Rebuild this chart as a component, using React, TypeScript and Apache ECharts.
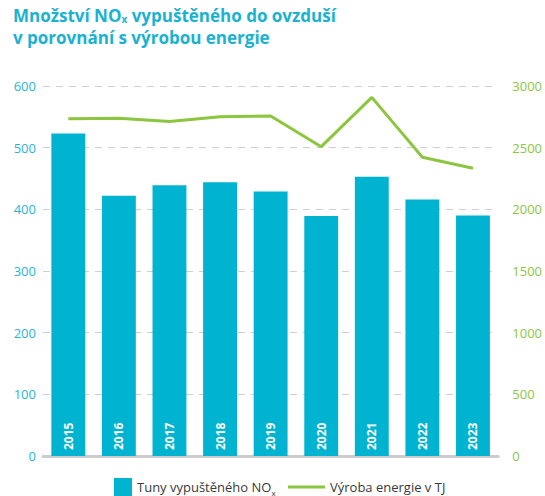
import React, { useEffect, useRef } from "react";
import * as echarts from "echarts";

const years = ["2015", "2016", "2017", "2018", "2019", "2020", "2021", "2022", "2023"];
const noxTons = [523, 422, 439, 444, 429, 389, 453, 416, 390];
const energyTJ = [2735, 2738, 2713, 2751, 2757, 2508, 2908, 2422, 2333];
const leftTicks = { min: 0, max: 600, interval: 100 };
const rightTicks = { min: 0, max: 3000, interval: 500 };
const barName = "Tuny vypuštěného NOx";
const lineName = "Výroba energie v TJ";

const TEAL = "#00b4d1";
const GREEN = "#8cc63f";
const TITLE = "#1ab2d2";
const FONT = "'Open Sans', 'Noto Sans', sans-serif";

export default function App() {
  const ref = useRef<HTMLDivElement>(null);
  useEffect(() => {
    document.body.style.margin = "0";
    const chart = echarts.init(ref.current!, null, { renderer: "svg" });
    chart.setOption({
      animation: false,
      textStyle: { fontFamily: FONT },
      title: [
        {
          left: 8,
          top: 1,
          text: "{a|Množství NO}{s|x}{a| vypuštěného do ovzduší}",
          textStyle: {
            rich: {
              a: { fontSize: 17, fontWeight: "bold", color: TITLE, fontFamily: FONT, lineHeight: 18 },
              s: { fontSize: 10, fontWeight: "bold", color: TITLE, fontFamily: FONT, lineHeight: 10, padding: [4, 0, 0, 0], verticalAlign: "bottom" },
            },
          },
        },
        {
          left: 8,
          top: 23,
          text: "v porovnání s výrobou energie",
          textStyle: { fontSize: 17, fontWeight: "bold", color: TITLE, fontFamily: FONT, lineHeight: 18 },
        },
      ],
      legend: [
        {
          left: 109,
          top: 473,
          data: [barName],
          itemWidth: 18,
          itemHeight: 18,
          icon: "rect",
          formatter: () => "{t|Tuny vypuštěného NO}{s|x}",
          textStyle: {
            rich: {
              t: { fontSize: 13, color: "#3a3a3a", fontFamily: FONT, lineHeight: 18 },
              s: { fontSize: 8, color: "#3a3a3a", fontFamily: FONT, lineHeight: 8, padding: [4, 0, 0, 0], verticalAlign: "bottom" },
            },
          },
        },
        {
          left: 283,
          top: 473,
          data: [{ name: lineName, icon: "rect", itemStyle: { color: GREEN } }],
          itemWidth: 37,
          itemHeight: 3,
          height: 18,
          padding: [5, 5, 5, 5],
          textStyle: { fontSize: 13, color: "#3a3a3a", fontFamily: FONT, lineHeight: 18 },
        },
      ],
      grid: { left: 43, right: 45, top: 86, bottom: 40 },
      xAxis: {
        type: "category",
        data: years,
        axisLine: { show: true, lineStyle: { color: "#cccccc", width: 3 } },
        axisTick: { show: false },
        axisLabel: { show: false },
      },
      yAxis: [
        {
          type: "value",
          ...leftTicks,
          axisLine: { show: false },
          axisTick: { show: false },
          axisLabel: { color: "#29b6d6", fontSize: 13, margin: 7, fontFamily: FONT },
          splitLine: { lineStyle: { color: "#d0d0d0", type: [7, 6], width: 1 } },
        },
        {
          type: "value",
          ...rightTicks,
          position: "right",
          axisLine: { show: false },
          axisTick: { show: false },
          axisLabel: { color: GREEN, fontSize: 13, margin: 14, fontFamily: FONT, formatter: (v: number) => String(v) },
          splitLine: { show: false },
        },
      ],
      series: [
        {
          name: barName,
          type: "bar",
          data: noxTons,
          yAxisIndex: 0,
          barCategoryGap: "33%",
          itemStyle: { color: TEAL },
          label: {
            show: true,
            position: "insideBottom",
            rotate: 90,
            align: "left",
            verticalAlign: "middle",
            distance: 6,
            formatter: "{b}",
            color: "#ffffff",
            fontSize: 12,
            fontWeight: "bold",
            fontFamily: FONT,
          },
        },
        {
          name: lineName,
          type: "line",
          data: energyTJ,
          yAxisIndex: 1,
          symbol: "none",
          lineStyle: { color: GREEN, width: 3 },
          itemStyle: { color: GREEN },
        },
      ],
    });
    return () => chart.dispose();
  }, []);
  return <div ref={ref} style={{ width: 545, height: 496 }} />;
}
